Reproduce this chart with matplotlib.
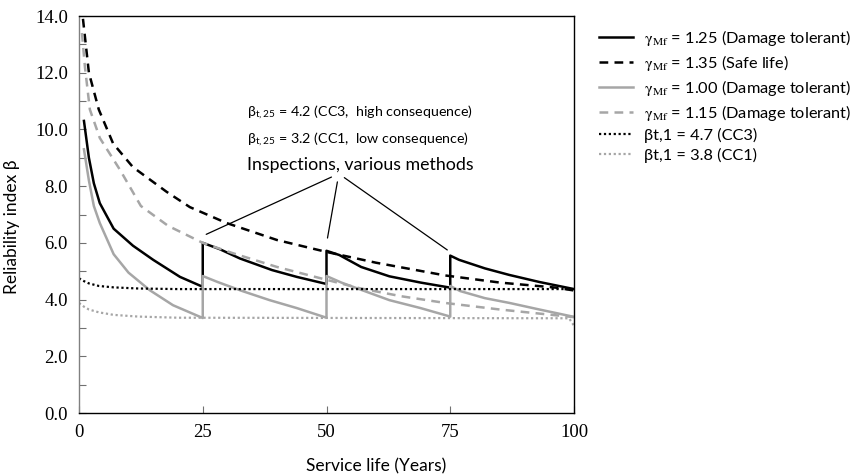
import numpy as np
import matplotlib.pyplot as plt

plt.rcParams['font.family'] = ['Lato', 'DejaVu Sans']
plt.rcParams['mathtext.fontset'] = 'stix'

# gamma_Mf = 1.25, damage tolerant (inspections at 25, 50, 75 years)
x_125 = [1, 2, 3, 4.2, 7, 10.9, 15, 20.4, 25, 25, 28.4, 32.5, 39, 44, 50, 50, 52.6, 57, 62.7, 69, 75, 75, 76.8, 82, 86.9, 93, 100]
y_125 = [10.3, 9.0, 8.1, 7.4, 6.5, 5.9, 5.4, 4.8, 4.45, 6.0, 5.78, 5.45, 5.04, 4.8, 4.55, 5.72, 5.57, 5.15, 4.82, 4.6, 4.42, 5.55, 5.4, 5.1, 4.87, 4.62, 4.37]

# gamma_Mf = 1.35, safe life
x_135 = [0.8, 2, 4, 6.9, 10.9, 17.7, 22.4, 29.8, 40, 50, 60, 74, 85, 96.4, 100]
y_135 = [13.9, 12.0, 10.7, 9.5, 8.67, 7.8, 7.26, 6.7, 6.1, 5.68, 5.3, 4.85, 4.6, 4.42, 4.32]

# gamma_Mf = 1.00, damage tolerant
x_100 = [1, 2, 3, 4.2, 7, 10, 14.3, 19, 25, 25, 28, 33, 38.5, 44, 50, 50, 53, 58, 62.7, 69, 75, 75, 77, 82, 87, 93, 100]
y_100 = [9.3, 8.2, 7.3, 6.7, 5.6, 4.95, 4.33, 3.8, 3.35, 4.83, 4.62, 4.3, 3.98, 3.7, 3.36, 4.83, 4.6, 4.28, 3.98, 3.7, 3.4, 4.48, 4.3, 4.05, 3.88, 3.65, 3.39]

# gamma_Mf = 1.15, damage tolerant (no inspection)
x_115 = [0.6, 1.2, 2.2, 4.2, 8.3, 12.5, 18, 25, 31, 40, 48.6, 56.7, 65, 74, 85, 100]
y_115 = [13.4, 12.2, 10.7, 9.7, 8.57, 7.3, 6.6, 6.0, 5.64, 5.15, 4.76, 4.4, 4.12, 3.88, 3.65, 3.38]

# target reliability
x_cc3 = [0, 1, 2, 4, 7, 12, 20, 100]
y_cc3 = [4.75, 4.65, 4.57, 4.48, 4.43, 4.39, 4.37, 4.37]
x_cc1 = [0, 1, 2, 4, 7, 12, 20, 99, 100]
y_cc1 = [3.88, 3.75, 3.65, 3.55, 3.46, 3.4, 3.36, 3.34, 3.08]

# inspection pointers: (target x, target y) and start near the text
insp_x = [25.7, 50.2, 74.4]
insp_y = [6.3, 6.17, 5.75]
text_x = [51.0, 52.2, 53.6]
text_y = [8.32, 8.15, 8.3]

gray = '#a6a6a6'

fig = plt.figure(figsize=(8.59, 4.75), dpi=100)
ax = fig.add_axes([79/859, 1-413/475, (574-79)/859, (413-16)/475])

ax.plot(x_125, y_125, color='black', lw=1.8,
        label=r'$\mathrm{\gamma_{Mf}}$ = 1.25 (Damage tolerant)')
ax.plot(x_135, y_135, color='black', lw=1.8, ls=(0, (3.5, 2.5)),
        label=r'$\mathrm{\gamma_{Mf}}$ = 1.35 (Safe life)')
ax.plot(x_100, y_100, color=gray, lw=1.8,
        label=r'$\mathrm{\gamma_{Mf}}$ = 1.00 (Damage tolerant)')
ax.plot(x_115, y_115, color=gray, lw=1.8, ls=(0, (3.5, 2.5)),
        label=r'$\mathrm{\gamma_{Mf}}$ = 1.15 (Damage tolerant)')
ax.plot(x_cc3, y_cc3, color='black', lw=1.6, ls=(0, (1, 1.2)),
        label='βt,1 = 4.7 (CC3)')
ax.plot(x_cc1, y_cc1, color=gray, lw=1.6, ls=(0, (1, 1.2)),
        label='βt,1 = 3.8 (CC1)')

for i in range(3):
    ax.annotate('', xy=(insp_x[i], insp_y[i]), xytext=(text_x[i], text_y[i]),
                arrowprops=dict(arrowstyle='-', color='black', lw=0.9,
                                shrinkA=0, shrinkB=0))

ax.text(34, 10.58, r'β$_{\mathregular{t,25}}$ = 4.2 (CC3,  high consequence)',
        fontsize=10.3, va='center')
ax.text(34, 9.63, r'β$_{\mathregular{t,25}}$ = 3.2 (CC1,  low consequence)',
        fontsize=10.3, va='center')
ax.text(34, 8.74, 'Inspections, various methods', fontsize=12.8, va='center')

ax.set_xlim(0, 100)
ax.set_ylim(0, 14)
ax.set_xticks([0, 25, 50, 75, 100])
ax.set_yticks(np.arange(0, 15, 1))
ax.set_yticklabels(['%.1f' % v if v % 2 == 0 else '' for v in np.arange(0, 15, 1)])
ax.tick_params(direction='in', length=5, width=0.8, color='#707070', pad=8,
               labelsize=13.5)
for lab in ax.get_xticklabels() + ax.get_yticklabels():
    lab.set_family('Liberation Serif')
for s in ax.spines.values():
    s.set_linewidth(1.0)
ax.spines['left'].set_color('#808080')

ax.set_xlabel('Service life (Years)', fontsize=12.5)
ax.xaxis.set_label_coords(0.6, -0.115)
ax.set_ylabel('Reliability index β', fontsize=12.5)
ax.yaxis.set_label_coords(-0.12, 0.47)

fig.legend(loc='upper left', bbox_to_anchor=(599/859, 1-28/475), frameon=False,
           fontsize=11.8, handlelength=2.05, handletextpad=0.7, labelspacing=0.3,
           borderaxespad=0, borderpad=0)

fig.savefig('out.png', dpi=100)
